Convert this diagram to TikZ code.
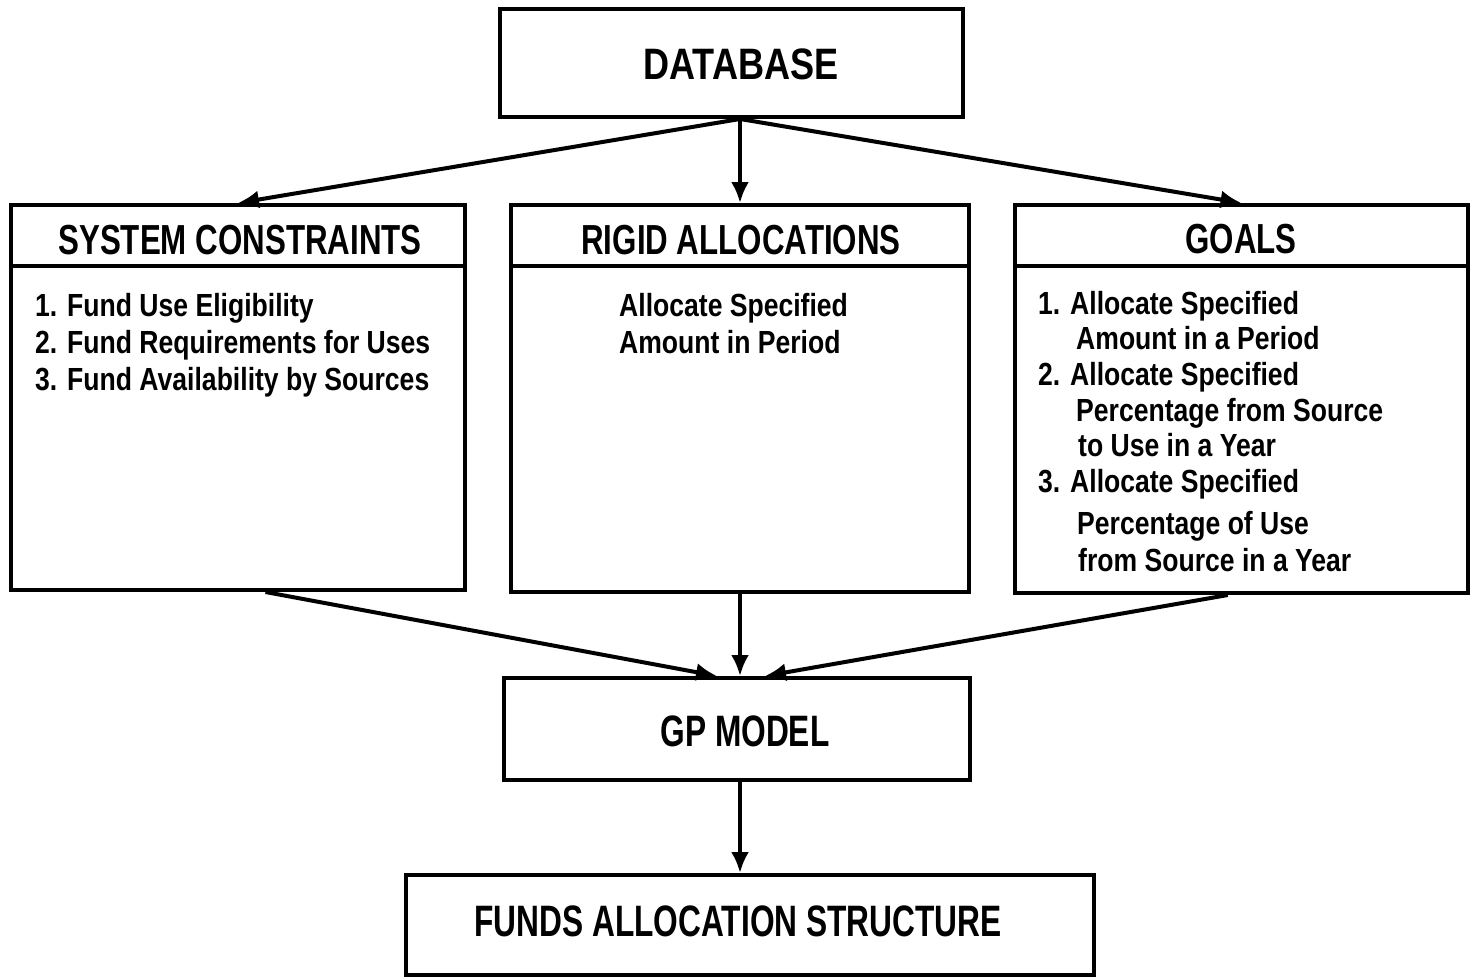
\documentclass[tikz,border=0pt]{standalone}
\usepackage{fontspec}
\setmainfont{Liberation Sans}
\newfontfamily\headfont[FakeStretch=0.745]{Liberation Sans}
\newfontfamily\widefont[FakeStretch=0.82]{Liberation Sans}
\newfontfamily\narrowfont[FakeStretch=0.72]{Liberation Sans}
\newfontfamily\itemfont[FakeStretch=0.83]{Liberation Sans}
\usetikzlibrary{arrows.meta,calc}

\begin{document}
\begin{tikzpicture}[x=1pt,y=-1pt,
  frame/.style={draw,line width=4pt,rectangle,inner sep=0pt},
  label text/.style={inner sep=0pt,anchor=center},
  head/.style={label text,font=\headfont\bfseries\fontsize{42}{46}\selectfont},
  item/.style={font=\itemfont\bfseries\fontsize{32}{36}\selectfont,anchor=base west,inner sep=0pt},
  flow/.style={line width=4pt,-{Latex[length=21pt,width=18pt]}}]
\useasboundingbox (0,0) rectangle (1471,977);

% top source box
\node[frame,minimum width=463pt,minimum height=108pt] (db) at (731.5,63) {};
\node[label text,font=\widefont\bfseries\fontsize{44}{48}\selectfont] (dbt) at (741,64) {DATABASE};

% three framed panels, each with a header strip
\node[frame,minimum width=454pt,minimum height=385pt] (sc) at (238,397.5) {};
\node[frame,minimum width=454pt,minimum height=61pt,anchor=north] (sch) at (sc.north) {};
\node[head] (scht) at (240,240) {SYSTEM CONSTRAINTS};

\node[frame,minimum width=458pt,minimum height=387pt] (ra) at (740,398.5) {};
\node[frame,minimum width=458pt,minimum height=61pt,anchor=north] (rah) at (ra.north) {};
\node[head] (raht) at (741,240) {RIGID ALLOCATIONS};

\node[frame,minimum width=453pt,minimum height=388pt] (go) at (1241.5,399) {};
\node[frame,minimum width=453pt,minimum height=61pt,anchor=north] (goh) at (go.north) {};
\node[head] (goht) at (1241,239) {GOALS};

% model and result
\node[frame,minimum width=466pt,minimum height=102pt] (gp) at (737,729) {};
\node[label text,font=\narrowfont\bfseries\fontsize{44}{48}\selectfont] (gpt) at (745,731) {GP MODEL};
\node[frame,minimum width=688pt,minimum height=100pt] (fa) at (750,925) {};
\node[label text,font=\narrowfont\bfseries\fontsize{44}{48}\selectfont] (fat) at (738,921) {FUNDS ALLOCATION STRUCTURE};

% panel contents
\node[item] (sc1) at (35,316) {1. Fund Use Eligibility};
\node[item] (sc2) at (35,353) {2. Fund Requirements for Uses};
\node[item] (sc3) at (35,390) {3. Fund Availability by Sources};

\node[item] (ra1) at (619,316) {Allocate Specified};
\node[item] (ra2) at (619,353) {Amount in Period};

\node[item] (go1) at (1038,314) {1. Allocate Specified};
\node[item] (go2) at (1076,349) {Amount in a Period};
\node[item] (go3) at (1038,385) {2. Allocate Specified};
\node[item] (go4) at (1076,421) {Percentage from Source};
\node[item] (go5) at (1078,456) {to Use in a Year};
\node[item] (go6) at (1038,492) {3. Allocate Specified};
\node[item] (go7) at (1077,534) {Percentage of Use};
\node[item] (go8) at (1078,571) {from Source in a Year};

% connectors
\coordinate (hub) at (ra.north |- db.south);
\draw[flow] (hub) -- (sc.north);
\draw[flow] (hub) -- (ra.north);
\draw[flow] (hub) -- (go.north);

\draw[flow] ($(sc.south west)!0.56!(sc.south east)$) -- ($(gp.north)+(-20,0)$);
\draw[flow] (ra.south) -- (ra.south |- gp.north);
\draw[flow] ($(go.south west)!0.47!(go.south east)$) -- ($(gp.north)+(28,0)$);
\draw[flow] (gp.south -| ra.south) -- (ra.south |- fa.north);
\end{tikzpicture}
\end{document}
